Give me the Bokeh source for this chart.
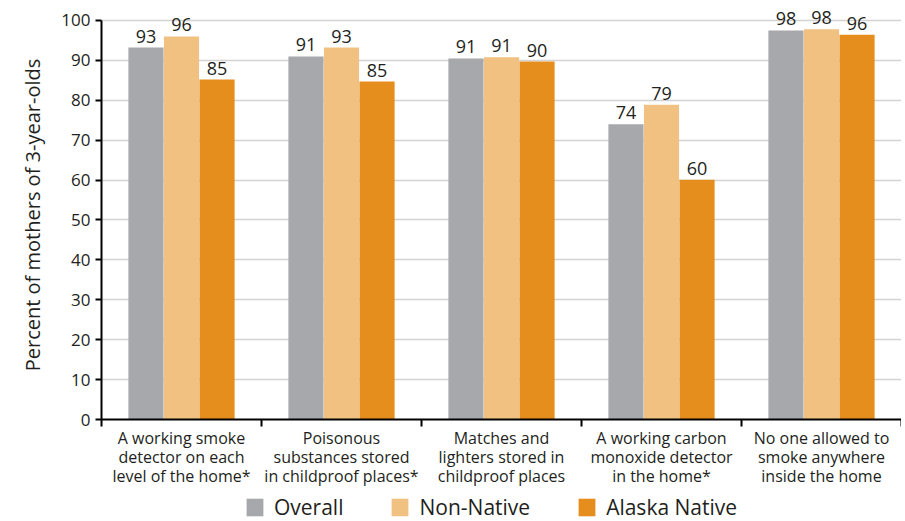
from bokeh.plotting import figure
from bokeh.layouts import column
from bokeh.models import Range1d, FixedTicker, Legend, LegendItem, ColumnDataSource
from bokeh.embed import file_html
from bokeh.resources import INLINE

categories = [
    "A working smoke\ndetector on each\nlevel of the home*",
    "Poisonous\nsubstances stored\nin childproof places*",
    "Matches and\nlighters stored in\nchildproof places",
    "A working carbon\nmonoxide detector\nin the home*",
    "No one allowed to\nsmoke anywhere\ninside the home",
]
series_names = ["Overall", "Non-Native", "Alaska Native"]
overall = [93.2, 91.0, 90.5, 74.0, 97.5]
non_native = [96.0, 93.2, 90.8, 78.9, 97.8]
alaska_native = [85.2, 84.7, 89.7, 60.1, 96.4]
overall_labels = ["93", "91", "91", "74", "98"]
non_native_labels = ["96", "93", "91", "79", "98"]
alaska_native_labels = ["85", "85", "90", "60", "96"]
y_ticks = list(range(0, 101, 10))

colors = ["#A7A8AC", "#F1C181", "#E58E1D"]
FONT = "Open Sans"
TXT = "#231F20"

p = figure(width=901, height=490, output_backend="svg", toolbar_location=None,
           x_range=Range1d(0, 5), y_range=Range1d(0, 102.5),
           min_border_left=101, min_border_top=10, min_border_right=0, min_border_bottom=71)
p.outline_line_color = None
p.xgrid.grid_line_color = None
p.ygrid.grid_line_color = "#D3D3D3"
p.ygrid.grid_line_width = 1.5
p.ygrid.ticker = FixedTicker(ticks=y_ticks)

# y axis
p.yaxis.ticker = FixedTicker(ticks=y_ticks)
p.yaxis.bounds = (0, 100)
p.yaxis.axis_line_color = "black"
p.yaxis.axis_line_width = 2
p.yaxis.major_tick_line_color = "black"
p.yaxis.major_tick_line_width = 2
p.yaxis.major_tick_in = 0
p.yaxis.major_tick_out = 6
p.yaxis.minor_tick_line_color = None
p.yaxis.major_label_text_font = FONT
p.yaxis.major_label_text_font_size = "17px"
p.yaxis.major_label_text_color = TXT
p.yaxis.major_label_standoff = 5
p.yaxis.axis_label = "Percent of mothers of 3-year-olds"
p.yaxis.axis_label_text_font = FONT
p.yaxis.axis_label_text_font_size = "20px"
p.yaxis.axis_label_text_font_style = "normal"
p.yaxis.axis_label_text_color = TXT
p.yaxis.axis_label_standoff = 12

# x axis: labels at centers, tick marks at boundaries (minor ticks)
centers = [i + 0.5 for i in range(len(categories))]
p.xaxis.ticker = FixedTicker(ticks=centers, minor_ticks=list(range(len(categories) + 1)))
p.xaxis.major_label_overrides = {c: lab for c, lab in zip(centers, categories)}
p.xaxis.axis_line_color = "black"
p.xaxis.axis_line_width = 2
p.xaxis.major_tick_line_color = None
p.xaxis.major_tick_out = 0
p.xaxis.major_tick_in = 0
p.xaxis.minor_tick_line_color = "black"
p.xaxis.minor_tick_line_width = 2
p.xaxis.minor_tick_out = 7
p.xaxis.minor_tick_in = 0
p.xaxis.major_label_text_font = FONT
p.xaxis.major_label_text_font_size = "16px"
p.xaxis.major_label_text_color = TXT
p.xaxis.major_label_text_line_height = 0.87
p.xaxis.major_label_standoff = 0

bw = 0.222
offsets = [-bw, 0.0, bw]
series = [overall, non_native, alaska_native]
labels = [overall_labels, non_native_labels, alaska_native_labels]
for vals, labs, off, col in zip(series, labels, offsets, colors):
    src = ColumnDataSource(dict(x=[c + off for c in centers], top=vals, lab=labs))
    p.vbar(x="x", top="top", width=bw * 0.99, bottom=0, source=src,
           fill_color=col, line_color=None)
    p.text(x="x", y="top", text="lab", source=src, text_align="center",
           text_baseline="bottom", y_offset=-5, text_font_size="18px",
           text_font={"value": FONT}, text_color=TXT)

# legend strip (frame aligned with the main plot's frame)
lg = figure(width=901, height=31, output_backend="svg", toolbar_location=None,
            x_axis_type=None, y_axis_type=None, x_range=Range1d(0, 1), y_range=Range1d(0, 1),
            min_border_left=0, min_border_right=0, min_border_top=0, min_border_bottom=0)
lg.outline_line_color = None
lg.xgrid.grid_line_color = None
lg.ygrid.grid_line_color = None
items = []
for name, col in zip(series_names, colors):
    r = lg.vbar(x=[0], top=[0], bottom=[0], width=0.0, fill_color=col, line_color=None)
    items.append(LegendItem(label=name, renderers=[r]))
legend = Legend(items=items, orientation="horizontal", location=(143, 0),
                label_text_font=FONT, label_text_font_size="21px", label_text_color=TXT,
                glyph_width=21, glyph_height=22, label_standoff=9, spacing=46,
                padding=0, margin=0, border_line_color=None, background_fill_alpha=0,
                label_height=22)
lg.add_layout(legend)

open("out.html", "w").write(file_html(column(p, lg, spacing=0), INLINE))
